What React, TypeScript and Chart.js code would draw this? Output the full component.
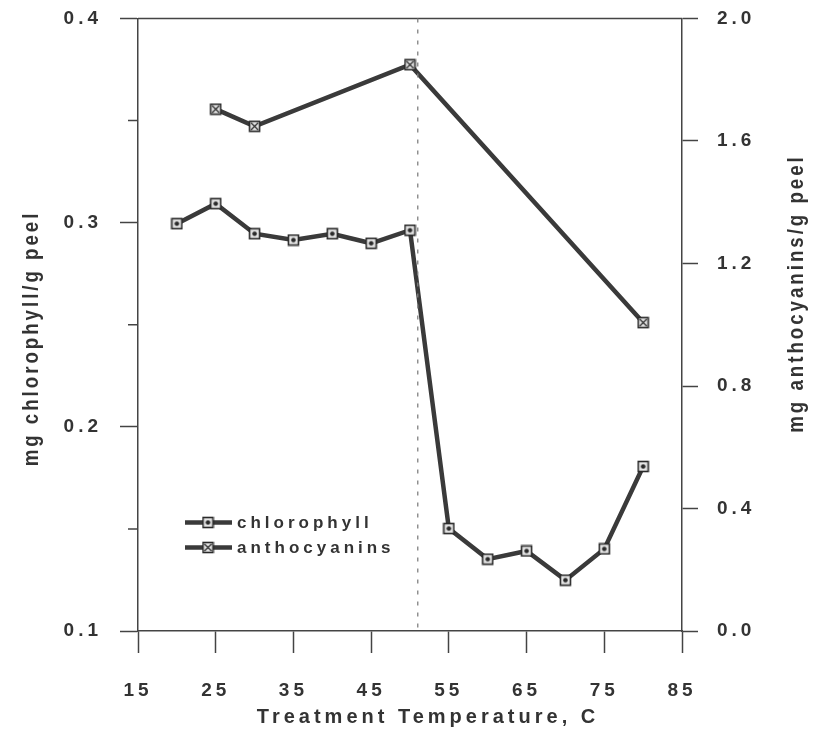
import React, { useEffect, useRef } from "react";
import { Chart, registerables } from "chart.js";

Chart.register(...registerables);

// ---- data ----
const temperatures = [20, 25, 30, 35, 40, 45, 50, 55, 60, 65, 70, 75, 80];
const chlorophyll = [0.2995, 0.3093, 0.2946, 0.2915, 0.2946, 0.2899, 0.2963, 0.1502, 0.1352, 0.1392, 0.1249, 0.1402, 0.1806];
const anthoTemperatures = [25, 30, 50, 80];
const anthocyanins = [1.704, 1.648, 1.849, 1.007];
const xTicksRange = { min: 15, max: 85, step: 10 };
const leftRange = { min: 0.1, max: 0.4, step: 0.1 };
const leftMinorTicks = [0.15, 0.25, 0.35];
const rightRange = { min: 0, max: 2.0, step: 0.4 };
const dividerTemperature = 51;
const seriesNames = ["chlorophyll", "anthocyanins"];
const xTitle = "Treatment Temperature, C";
const leftTitle = "mg chlorophyll/g peel";
const rightTitle = "mg anthocyanins/g peel";

const FONT = "'Liberation Sans', Arial, sans-serif";
const INK = "#333333";
const LINE = "#3a3a3a";

function makeMarker(kind: "dot" | "cross"): HTMLCanvasElement {
  const c = document.createElement("canvas");
  const s = 13;
  c.width = s;
  c.height = s;
  const g = c.getContext("2d")!;
  g.fillStyle = "#e6e6e6";
  g.fillRect(1, 1, s - 2, s - 2);
  g.strokeStyle = "#2a2a2a";
  g.lineWidth = 1.6;
  g.strokeRect(1.5, 1.5, s - 3, s - 3);
  if (kind === "dot") {
    g.fillStyle = "#2a2a2a";
    g.beginPath();
    g.arc(s / 2, s / 2, 2.3, 0, Math.PI * 2);
    g.fill();
  } else {
    g.lineWidth = 1.2;
    g.beginPath();
    g.moveTo(3, 3);
    g.lineTo(s - 3, s - 3);
    g.moveTo(s - 3, 3);
    g.lineTo(3, s - 3);
    g.stroke();
  }
  return c;
}

export default function App() {
  const ref = useRef<HTMLCanvasElement | null>(null);

  useEffect(() => {
    const canvas = ref.current;
    if (!canvas) return;
    const markerA = makeMarker("dot");
    const markerB = makeMarker("cross");

    const decor = {
      id: "decor",
      beforeDraw(chart: any) {
        chart.ctx.letterSpacing = "4px";
      },
      afterDraw(chart: any) {
        const { ctx, chartArea } = chart;
        const xs = chart.scales.x;
        const ys = chart.scales.y;
        ctx.save();
        ctx.letterSpacing = "0px";
        // top frame line
        ctx.strokeStyle = "#444";
        ctx.lineWidth = 1.5;
        ctx.beginPath();
        ctx.moveTo(chartArea.left, chartArea.top);
        ctx.lineTo(chartArea.right, chartArea.top);
        ctx.stroke();
        // minor ticks on left axis
        ctx.beginPath();
        for (const v of leftMinorTicks) {
          const py = ys.getPixelForValue(v);
          ctx.moveTo(chartArea.left, py);
          ctx.lineTo(chartArea.left - 10, py);
        }
        ctx.stroke();
        // dashed divider
        const dx = xs.getPixelForValue(dividerTemperature);
        ctx.strokeStyle = "#808080";
        ctx.lineWidth = 1.3;
        ctx.setLineDash([4, 7]);
        ctx.beginPath();
        ctx.moveTo(dx, chartArea.top);
        ctx.lineTo(dx, chartArea.bottom);
        ctx.stroke();
        ctx.setLineDash([]);

        // legend
        const lx = chartArea.left + 47;
        const rows = [chartArea.top + 504, chartArea.top + 529];
        const markers = [markerA, markerB];
        ctx.font = `bold 17px ${FONT}`;
        ctx.fillStyle = INK;
        ctx.textBaseline = "middle";
        ctx.textAlign = "left";
        rows.forEach((ry, i) => {
          ctx.strokeStyle = LINE;
          ctx.lineWidth = 4.5;
          ctx.beginPath();
          ctx.moveTo(lx, ry);
          ctx.lineTo(lx + 47, ry);
          ctx.stroke();
          const m = markers[i];
          ctx.drawImage(m, lx + 23 - m.width / 2, ry - m.height / 2);
          ctx.letterSpacing = "4px";
          ctx.fillText(seriesNames[i], lx + 52, ry + 1);
          ctx.letterSpacing = "0px";
        });

        // x title
        ctx.font = `bold 20px ${FONT}`;
        ctx.letterSpacing = "4px";
        ctx.textAlign = "center";
        ctx.fillText(xTitle, chartArea.left + 290, chartArea.bottom + 86);

        // y titles (condensed, reading bottom to top)
        const drawVertical = (text: string, cx: number, cy: number) => {
          ctx.save();
          ctx.translate(cx, cy);
          ctx.rotate(-Math.PI / 2);
          ctx.scale(0.85, 1);
          ctx.font = `bold 22px ${FONT}`;
          ctx.letterSpacing = "3.5px";
          ctx.textAlign = "center";
          ctx.textBaseline = "middle";
          ctx.fillText(text, 0, 0);
          ctx.restore();
        };
        drawVertical(leftTitle, chartArea.left - 106, chartArea.top + 320);
        drawVertical(rightTitle, chartArea.right + 115, chartArea.top + 275);
        ctx.restore();
      },
    };

    const tickFont = { family: FONT, size: 19, weight: "bold" as const, lineHeight: 1 };
    const gridCommon = {
      drawOnChartArea: false,
      drawTicks: true,
      tickColor: "#444",
      tickWidth: 1.5,
    };
    const borderCommon = { display: true, color: "#444", width: 1.5 };

    const chart = new Chart(canvas, {
      type: "line",
      data: {
        datasets: [
          {
            label: seriesNames[0],
            data: temperatures.map((t, i) => ({ x: t, y: chlorophyll[i] })),
            yAxisID: "y",
            borderColor: LINE,
            borderWidth: 4.5,
            pointStyle: markerA,
            pointRadius: 6,
            tension: 0,
          },
          {
            label: seriesNames[1],
            data: anthoTemperatures.map((t, i) => ({ x: t, y: anthocyanins[i] })),
            yAxisID: "y1",
            borderColor: LINE,
            borderWidth: 4.5,
            pointStyle: markerB,
            pointRadius: 6,
            tension: 0,
          },
        ],
      },
      options: {
        animation: false,
        responsive: true,
        maintainAspectRatio: false,
        layout: { padding: { top: 9, left: 0, right: 0, bottom: 0 } },
        plugins: { legend: { display: false }, tooltip: { enabled: false } },
        scales: {
          x: {
            type: "linear",
            min: xTicksRange.min,
            max: xTicksRange.max,
            ticks: {
              stepSize: xTicksRange.step,
              font: tickFont,
              color: INK,
              padding: 28,
              maxRotation: 0,
              autoSkip: false,
            },
            grid: { ...gridCommon, tickLength: 22 },
            border: borderCommon,
            afterFit: (s: any) => {
              s.height = 97;
              s.paddingLeft = 0;
              s.paddingRight = 0;
            },
          },
          y: {
            type: "linear",
            position: "left",
            min: leftRange.min,
            max: leftRange.max,
            ticks: {
              stepSize: leftRange.step,
              font: tickFont,
              color: INK,
              padding: 18,
              callback: (v: any) => Number(v).toFixed(1),
            },
            grid: { ...gridCommon, tickLength: 18 },
            border: borderCommon,
            afterFit: (s: any) => {
              s.width = 130;
              s.paddingTop = 0;
              s.paddingBottom = 0;
            },
          },
          y1: {
            type: "linear",
            position: "right",
            min: rightRange.min,
            max: rightRange.max,
            ticks: {
              stepSize: rightRange.step,
              font: tickFont,
              color: INK,
              padding: 19,
              callback: (v: any) => Number(v).toFixed(1),
            },
            grid: { ...gridCommon, tickLength: 16 },
            border: borderCommon,
            afterFit: (s: any) => {
              s.width = 127;
              s.paddingTop = 0;
              s.paddingBottom = 0;
            },
          },
        },
      },
      plugins: [decor],
    });

    return () => chart.destroy();
  }, []);

  return (
    <div style={{ width: 801, height: 720, position: "relative", background: "#fff" }}>
      <canvas ref={ref} />
    </div>
  );
}
